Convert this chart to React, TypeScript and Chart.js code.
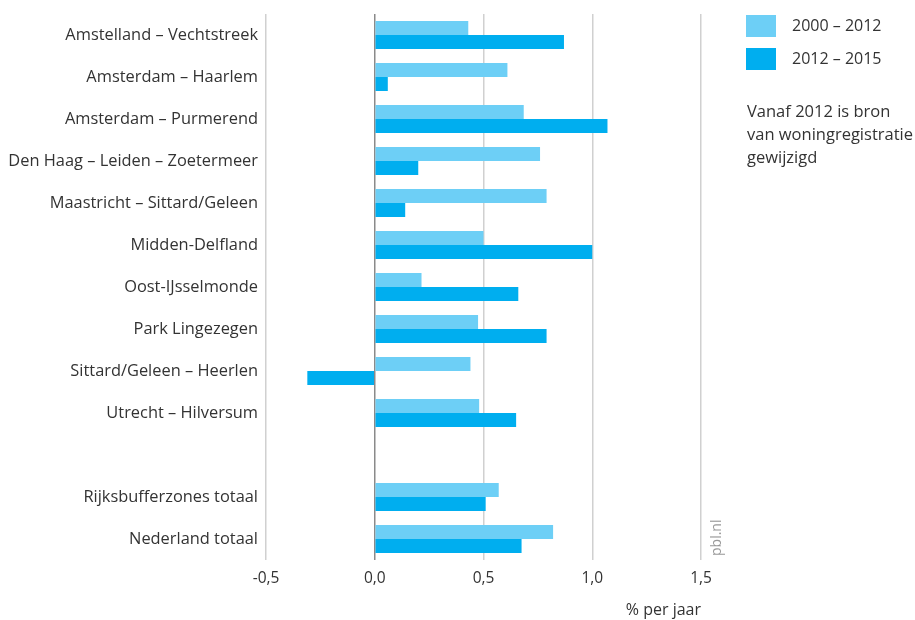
import React, { useEffect, useRef } from "react";
import { Chart, registerables } from "chart.js";

Chart.register(...registerables);

const categories = [
  "Amstelland – Vechtstreek",
  "Amsterdam – Haarlem",
  "Amsterdam – Purmerend",
  "Den Haag – Leiden – Zoetermeer",
  "Maastricht – Sittard/Geleen",
  "Midden-Delfland",
  "Oost-IJsselmonde",
  "Park Lingezegen",
  "Sittard/Geleen – Heerlen",
  "Utrecht – Hilversum",
  "",
  "Rijksbufferzones totaal",
  "Nederland totaal",
];

const series2000_2012 = [0.43, 0.61, 0.685, 0.76, 0.79, 0.5, 0.215, 0.475, 0.44, 0.48, null, 0.57, 0.82];
const series2012_2015 = [0.87, 0.06, 1.07, 0.2, 0.14, 1.0, 0.66, 0.79, -0.31, 0.65, null, 0.51, 0.675];

const seriesLabels = ["2000 – 2012", "2012 – 2015"];
const noteLines = ["Vanaf 2012 is bron", "van woningregistratie", "gewijzigd"];
const axisTitle = "% per jaar";
const sourceText = "pbl.nl";

const LIGHT = "#6DCFF6";
const DARK = "#00AEEF";
const FONT = "'Open Sans', sans-serif";
const TEXT = "#333333";

export default function App() {
  const ref = useRef<HTMLCanvasElement | null>(null);

  useEffect(() => {
    if (!ref.current) return;
    const extras = {
      id: "extras",
      afterDraw(chart: any) {
        const ctx = chart.ctx;
        const area = chart.chartArea;
        ctx.save();
        const lx = 746;
        const colors = [LIGHT, DARK];
        ctx.font = `16px ${FONT}`;
        ctx.textBaseline = "middle";
        ctx.textAlign = "left";
        seriesLabels.forEach((lab, i) => {
          const y = 15 + i * 33;
          ctx.fillStyle = colors[i];
          ctx.fillRect(lx, y, 30, 22);
          ctx.fillStyle = TEXT;
          ctx.fillText(lab, 792, y + 11);
        });
        ctx.font = `16.5px ${FONT}`;
        noteLines.forEach((l, i) => {
          ctx.fillText(l, 747, 112 + i * 23);
        });
        ctx.translate(area.right + 20, area.bottom - 4);
        ctx.rotate(-Math.PI / 2);
        ctx.font = `14px ${FONT}`;
        ctx.fillStyle = "#999999";
        ctx.textAlign = "left";
        ctx.textBaseline = "alphabetic";
        ctx.fillText(sourceText, 0, 0);
        ctx.restore();
      },
    };

    const chart = new Chart(ref.current, {
      type: "bar",
      data: {
        labels: categories,
        datasets: [
          {
            label: seriesLabels[0],
            data: series2000_2012 as any,
            backgroundColor: LIGHT,
            categoryPercentage: 0.667,
            barPercentage: 1,
          },
          {
            label: seriesLabels[1],
            data: series2012_2015 as any,
            backgroundColor: DARK,
            categoryPercentage: 0.667,
            barPercentage: 1,
          },
        ],
      },
      options: {
        indexAxis: "y",
        animation: false,
        responsive: false,
        maintainAspectRatio: false,
        layout: { padding: { top: 14, right: 214, left: 0, bottom: 0 } },
        plugins: {
          legend: { display: false },
          tooltip: { enabled: false },
        },
        scales: {
          x: {
            min: -0.5,
            max: 1.5,
            border: { display: false },
            grid: {
              drawTicks: false,
              lineWidth: 1.5,
              color: (c: any) => (c.tick && c.tick.value === 0 ? "#8a8a8a" : "#d0d0d0"),
            },
            ticks: {
              stepSize: 0.5,
              padding: 9,
              color: TEXT,
              font: { family: FONT, size: 15.5 },
              callback: (v: any) => Number(v).toFixed(1).replace(".", ","),
            },
            title: {
              display: true,
              text: axisTitle,
              align: "end",
              color: TEXT,
              font: { family: FONT, size: 16 },
              padding: { top: 8, bottom: 0 },
            },
            afterFit: (s: any) => {
              s.height = 60;
            },
          },
          y: {
            border: { display: false },
            grid: { display: false, drawTicks: false },
            ticks: {
              padding: 8,
              color: TEXT,
              font: { family: FONT, size: 16.4 },
            },
            afterFit: (s: any) => {
              s.width = 266;
              s.paddingTop = 0;
              s.paddingBottom = 0;
            },
          },
        },
      },
      plugins: [extras],
    });
    return () => chart.destroy();
  }, []);

  return (
    <div style={{ position: "absolute", left: 0, top: 0, width: 915, height: 620 }}>
      <canvas ref={ref} width={915} height={620} />
    </div>
  );
}
